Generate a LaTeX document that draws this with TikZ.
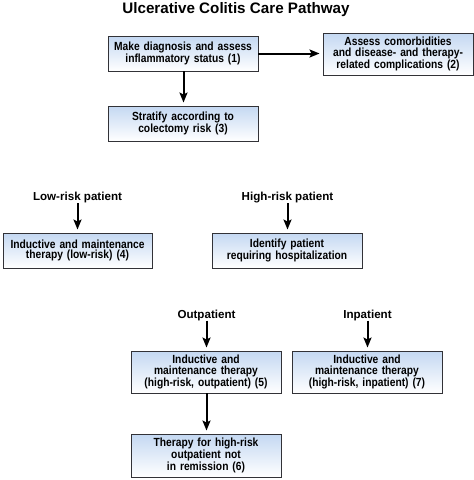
\documentclass[tikz,border=0pt]{standalone}
\usepackage{fontspec}
\setmainfont{Liberation Sans}
\newfontfamily\narrowfont[FakeStretch=0.87]{Liberation Sans}
\usetikzlibrary{arrows.meta}
\definecolor{boxtop}{RGB}{196,216,242}
\definecolor{boxline}{RGB}{50,50,55}
\begin{document}
\begin{tikzpicture}[x=1pt, y=-1pt,
  stepbox/.style={draw=boxline, line width=0.9pt, top color=boxtop, bottom color=white,
    minimum width=150pt, text width=146pt, align=center, inner sep=1pt,
    font=\narrowfont\fontsize{11.8}{10.8}\selectfont\bfseries},
  tag/.style={font=\fontsize{11.6}{13}\selectfont\bfseries, inner sep=0pt, anchor=base},
  arr/.style={-{Stealth[length=10pt, width=8pt, inset=2pt]}, line width=2pt, shorten >=3pt}]
\useasboundingbox (0,0) rectangle (474,480);

\node[font=\fontsize{15.2}{17}\selectfont\bfseries, anchor=base] (title) at (236, 13) {Ulcerative Colitis Care Pathway};

\node[stepbox, minimum height=35pt] (diag) at (183, 53.5) {Make diagnosis and assess\\inflammatory status (1)};
\node[stepbox, minimum height=42pt] (comorb) at (398, 54) {Assess comorbidities\\and disease- and therapy-\\related complications (2)};
\node[stepbox, minimum height=35pt] (strat) at (183, 123.5) {Stratify according to\\colectomy risk (3)};

\node[tag] (low) at (77.5, 200.5) {Low-risk patient};
\node[tag] (high) at (287.5, 200.5) {High-risk patient};
\node[stepbox, minimum height=35pt, minimum width=149pt] (lowther) at (77.5, 250.5) {Inductive and maintenance\\therapy (low-risk) (4)};
\node[stepbox, minimum height=35pt] (hosp) at (287, 250.5) {Identify patient\\requiring hospitalization};

\node[tag] (outp) at (206.5, 318) {Outpatient};
\node[tag] (inp) at (367.5, 318) {Inpatient};
\node[stepbox, minimum height=42pt] (outther) at (206, 372) {Inductive and\\maintenance therapy\\(high-risk, outpatient) (5)};
\node[stepbox, minimum height=42pt] (inther) at (367, 372) {Inductive and\\maintenance therapy\\(high-risk, inpatient) (7)};
\node[stepbox, minimum height=43pt] (remis) at (206, 455.5) {Therapy for high-risk\\outpatient not\\in remission (6)};

% connectors
\draw[arr] (diag.east) -- (diag.east -| comorb.west);
\draw[arr] (diag.south -| 183.5,0) -- (strat.north -| 183.5,0);
\draw[arr] (low.south) -- (low.south |- lowther.north);
\draw[arr] (high.south) -- (high.south |- hosp.north);
\draw[arr] (outp.south) -- (outp.south |- outther.north);
\draw[arr] (inp.south) -- (inp.south |- inther.north);
\draw[arr] (outther.south -| 206.5,0) -- (remis.north -| 206.5,0);
\end{tikzpicture}
\end{document}
